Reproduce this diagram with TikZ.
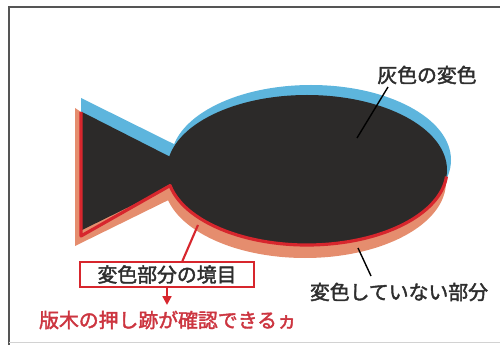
\documentclass[tikz,border=0pt]{standalone}
\usepackage{fontspec}
\newfontfamily\jpfont[FakeBold=2]{Noto Sans CJK JP}
\usetikzlibrary{calc,arrows.meta}
\definecolor{fishbody}{HTML}{2C2A29}
\definecolor{fadeblue}{HTML}{5DB5DD}
\definecolor{fadeorange}{HTML}{E58D6E}
\definecolor{edgered}{HTML}{D7262D}
\definecolor{labeltext}{HTML}{2E2E2E}
\definecolor{notetext}{HTML}{CC3540}
\definecolor{framegray}{HTML}{555555}
\begin{document}
\begin{tikzpicture}[x=0.02cm,y=0.02cm,
  jp/.style={font=\jpfont\fontsize{11.3pt}{13pt}\selectfont},
  label/.style={jp, text=labeltext, inner sep=1pt},
  leader/.style={draw=black, line width=0.8pt},
  redleader/.style={draw=edgered, line width=1.2pt}]
  \useasboundingbox (0,0) rectangle (500,345);
  % frame
  \draw[framegray, line width=1pt] (9,0) -- (9,338) -- (500,338);
  \draw[gray!35, line width=0.8pt] (9,2.5) -- (500,2.5);

  % upper (blue) fading band
  \fill[fadeblue] (81,247) -- (81,130) -- (200,188) -- cycle;
  \fill[fadeblue] (311,185) ellipse [x radius=140, y radius=75];
  % lower (orange) unfaded band
  \fill[fadeorange] (75,237) -- (75,99) -- (195,158) -- cycle;
  \fill[fadeorange] (305,163) ellipse [x radius=141, y radius=76];
  % fish body
  \fill[fishbody] (82,233) -- (82,115) -- (200,173) -- cycle;
  \fill[fishbody] (307,175) ellipse [x radius=140, y radius=75];
  % boundary of the faded part
  \draw[edgered, line width=1.8pt, line join=round]
    (81,233) -- (81,109) -- ($(307,175)+(192:140 and 75)$)
    arc[start angle=192, end angle=355, x radius=140, y radius=75];

  % labels
  \node[label] (gray) at (427,270) {灰色の変色};
  \coordinate (grayend) at (357,207);
  \draw[leader] (388,258) -- (grayend);

  \node[label] (keep) at (399,53) {変色していない部分};
  \coordinate (keepend) at (358,97);
  \draw[leader] (keepend) -- (371,69);

  \node[draw=edgered, line width=1.4pt, jp, text=labeltext,
        minimum width=3.48cm, minimum height=0.5cm, inner sep=0pt] (border) at (167,70.5) {変色部分の境目};
  \coordinate (borderend) at (198,120);
  \draw[redleader] (182,83) -- (borderend);

  \node[jp, text=notetext, inner sep=1pt] (note) at (168,25) {版木の押し跡が確認できるヵ};
  \draw[redleader, -{Triangle[length=5pt,width=5pt]}] (border.south -| 167,0) -- (167,40);
\end{tikzpicture}
\end{document}
